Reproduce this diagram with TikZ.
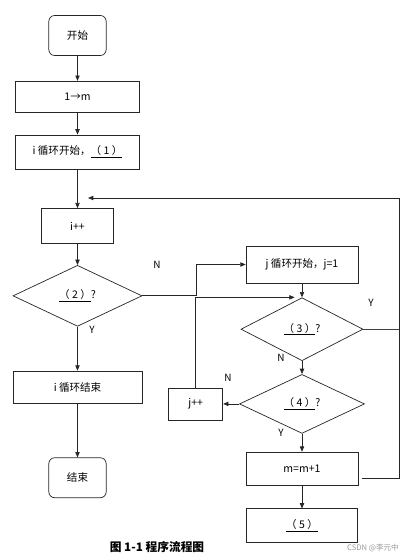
\documentclass[tikz,border=0pt]{standalone}
\usepackage{fontspec}
\setmainfont{Noto Sans CJK SC}
\usetikzlibrary{positioning, arrows.meta, shapes.geometric, calc}

\begin{document}
\begin{tikzpicture}[
  x=0.03cm, y=-0.03cm,
  >={Triangle[length=1.6mm, width=1.3mm]},
  every node/.style={font=\fontsize{9}{11}\selectfont},
  base/.style  = {draw=black!85, semithick, align=center, inner sep=2pt},
  term/.style  = {base, rounded corners=5pt, minimum width=1.72cm, minimum height=1.2cm},
  proc/.style  = {base, minimum height=0.96cm},
  cond/.style  = {base, diamond, inner sep=0pt},
  arr/.style   = {->, black!85, semithick},
  wire/.style  = {black!75, semithick},
  yn/.style    = {font=\fontsize{8.5}{10}\selectfont},
]
  \useasboundingbox (0,0) rectangle (415,560);
  % Outer loop on the left.
  \node[term]                                                          (start) at (77.5,35.5) {开始};
  \node[proc, minimum width=3.72cm, minimum height=0.93cm, below=0.75cm of start] (init)  {1→m};
  \node[proc, minimum width=3.72cm, minimum height=1.02cm, below=0.66cm of init]  (iloop) {i 循环开始，\underline{（ 1 ）}};
  \node[proc, minimum width=2.16cm, minimum height=1.05cm, below=1.17cm of iloop] (iinc)  {i++};
  \node[cond, minimum width=3.87cm, minimum height=1.83cm, below=0.63cm of iinc]  (c2)    {\underline{（ 2 ）}?};
  \node[proc, minimum width=3.87cm, below=1.32cm of c2]                           (iend)  {i 循环结束};
  \node[term, below=1.62cm of iend]                                               (stop)  {结束};
  % Inner loop on the right.
  \node[proc, minimum width=3.36cm, minimum height=1.11cm]                        (jloop) at (302,264.5) {j 循环开始，j=1};
  \node[cond, minimum width=3.66cm, minimum height=1.89cm, below=0.42cm of jloop] (c3)    {\underline{（ 3 ）}?};
  \node[cond, minimum width=3.75cm, minimum height=1.77cm, below=0.39cm of c3]    (c4)    {\underline{（ 4 ）}?};
  \node[proc, minimum width=3.36cm, minimum height=0.99cm, below=0.54cm of c4]    (minc)  {m=m+1};
  \node[proc, minimum width=3.33cm, minimum height=1.02cm, below=0.69cm of minc]  (out)   {\underline{（ 5 ）}};
  \node[proc, minimum width=1.62cm, left=0.48cm of c4]                            (jinc)  {j++};
  \foreach \a/\b in {start/init, init/iloop, iloop/iinc, iinc/c2, c2/iend, iend/stop,
                     jloop/c3, c3/c4, c4/minc, minc/out}
     \draw[arr] (\a) -- (\b);
  \draw[arr] (c4.west) -- (jinc.east);
  \draw[arr] (c2.east) -- ++(54,0) |- (jloop.west);
  \draw[arr, shorten >=2.2mm] (jinc.north) |- (c3.north);
  % Return rail back to i++.
  \coordinate (rail) at (399,198);
  \coordinate (back) at (88,198);
  \draw[wire] (c3.east) -- (c3.east -| rail);
  \draw[arr] ($(minc.east)+(4,10)$) -| (rail) -- (back);
  % Branch labels.
  \node[yn] (n2) at (157,265) {N};
  \node[yn] (y2) at (92,330)  {Y};
  \node[yn] (y3) at (371,303) {Y};
  \node[yn] (n3) at (281,358) {N};
  \node[yn] (n4) at (228,378) {N};
  \node[yn] (y4) at (281,433) {Y};
  \node[font=\bfseries\fontsize{10}{12}\selectfont] (cap)  at (157,547) {图 1-1 程序流程图};
  \node[font=\fontsize{6.5}{8}\selectfont, text=black!40] (mark) at (373,548) {CSDN @李元中};
\end{tikzpicture}
\end{document}
